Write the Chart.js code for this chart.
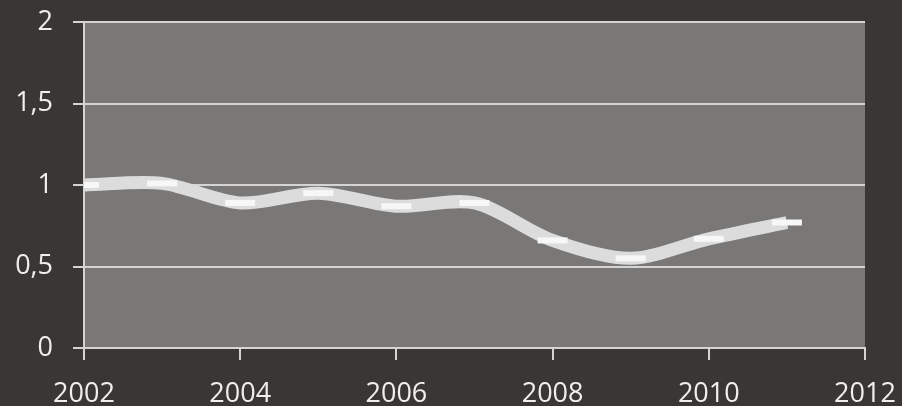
<!DOCTYPE html>
<html>
<head>
<meta charset="utf-8">
<script src="https://cdn.jsdelivr.net/npm/chart.js@4/dist/chart.umd.min.js"></script>
<style>
  html, body { margin: 0; padding: 0; background: #3a3633; }
  #wrap { width: 902px; height: 406px; }
</style>
</head>
<body>
<div id="wrap"><canvas id="c" width="902" height="406"></canvas></div>
<script>
// Yearly values of the series
const years  = [2002, 2003, 2004, 2005, 2006, 2007, 2008, 2009, 2010, 2011];
const values = [1.00, 1.01, 0.89, 0.95, 0.87, 0.89, 0.66, 0.55, 0.67, 0.77];

// Axis tick values
const xTicks = [2002, 2004, 2006, 2008, 2010, 2012];
const yTicks = [0, 0.5, 1, 1.5, 2];

const points = years.map((yr, i) => ({ x: yr, y: values[i] }));

// Paints the dark page and the grey plot panel behind everything
const backdrop = {
  id: 'backdrop',
  beforeDraw(chart) {
    const { ctx, chartArea: a } = chart;
    ctx.save();
    ctx.fillStyle = '#3a3633';
    ctx.fillRect(0, 0, chart.width, chart.height);
    ctx.fillStyle = '#797877';
    ctx.fillRect(a.left, a.top, a.right - a.left, a.bottom - a.top);
    ctx.restore();
  }
};

const labelFont = { family: '"Open Sans", "DejaVu Sans", sans-serif', size: 27 };

new Chart(document.getElementById('c'), {
  type: 'line',
  data: {
    datasets: [{
      data: points,
      borderColor: '#dcdcdc',
      borderWidth: 13,
      tension: 0.3,
      pointStyle: 'line',
      pointRadius: 15,
      pointHoverRadius: 15,
      pointBorderWidth: 6,
      pointBorderColor: '#f7f7f7',
      pointBackgroundColor: '#f7f7f7'
    }]
  },
  options: {
    responsive: false,
    animation: false,
    events: [],
    layout: { padding: { top: 22, right: 37, left: 0, bottom: 0 } },
    plugins: { legend: { display: false }, tooltip: { enabled: false } },
    scales: {
      x: {
        type: 'linear',
        min: xTicks[0],
        max: xTicks[xTicks.length - 1],
        afterFit(scale) {
          scale.height = 58;
          scale.paddingLeft = 0;
          scale.paddingRight = 0;
        },
        afterBuildTicks(scale) { scale.ticks = xTicks.map(v => ({ value: v })); },
        ticks: {
          color: '#efefef',
          font: labelFont,
          padding: 18,
          maxRotation: 0,
          callback: v => String(v)
        },
        grid: {
          drawOnChartArea: false,
          drawTicks: true,
          tickLength: 12,
          color: '#d4d4d4',
          lineWidth: 2
        },
        border: { display: true, color: '#d4d4d4', width: 2 }
      },
      y: {
        min: yTicks[0],
        max: yTicks[yTicks.length - 1],
        afterFit(scale) {
          scale.width = 84;
          scale.paddingTop = 0;
          scale.paddingBottom = 0;
        },
        afterBuildTicks(scale) { scale.ticks = yTicks.map(v => ({ value: v })); },
        ticks: {
          color: '#efefef',
          font: labelFont,
          padding: 20,
          callback: v => String(v).replace('.', ',')
        },
        grid: {
          color: '#d4d4d4',
          lineWidth: 2,
          tickLength: 11
        },
        border: { display: true, color: '#d4d4d4', width: 2 }
      }
    }
  },
  plugins: [backdrop]
});
</script>
</body>
</html>
